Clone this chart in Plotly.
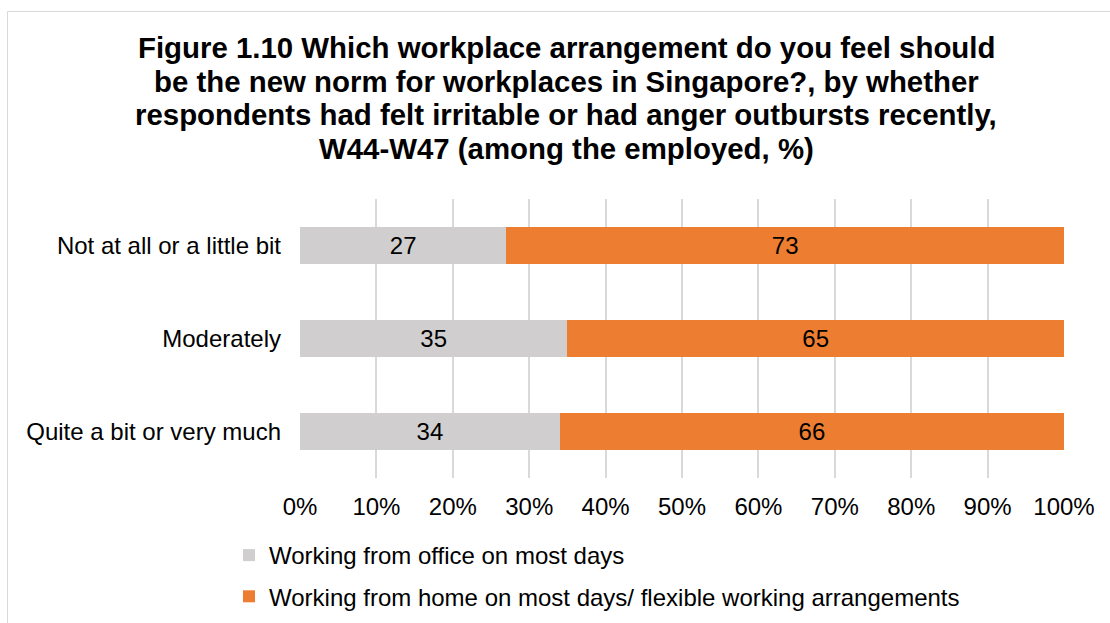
import plotly.graph_objects as go

# Survey breakdown (percent of the employed)
categories = ["Not at all or a little bit", "Moderately", "Quite a bit or very much"]
office_most_days = [27, 35, 34]
home_or_flexible = [73, 65, 66]
series_names = [
    "Working from office on most days",
    "Working from home on most days/ flexible working arrangements",
]
x_ticks = [0, 10, 20, 30, 40, 50, 60, 70, 80, 90, 100]
x_tick_labels = [f"{t}%" for t in x_ticks]
title_lines = [
    "Figure 1.10 Which workplace arrangement do you feel should",
    "be the new norm for workplaces in Singapore?, by whether",
    "respondents had felt irritable or had anger outbursts recently,",
    "W44-W47 (among the employed, %)",
]

W, H = 1110, 623
L, R, T, B = 300, 1064, 199, 478  # plot area edges in pixels
FONT = "Liberation Sans, Arial, sans-serif"


def px(x):
    return (x - L) / (R - L)


def py(y):
    return (B - y) / (B - T)


fig = go.Figure()
fig.add_trace(go.Bar(
    y=categories, x=office_most_days, orientation="h",
    name=series_names[0], marker=dict(color="#D0CECE", line=dict(width=0)),
    text=[str(v) for v in office_most_days], textposition="inside",
    insidetextanchor="middle", insidetextfont=dict(color="#000000", size=24, family=FONT),
    legendgroup="a", hoverinfo="x+y",
))
fig.add_trace(go.Bar(
    y=categories, x=home_or_flexible, orientation="h",
    name=series_names[1], marker=dict(color="#ED7D31", line=dict(width=0)),
    text=[str(v) for v in home_or_flexible], textposition="inside",
    insidetextanchor="middle", insidetextfont=dict(color="#000000", size=24, family=FONT),
    legendgroup="b", hoverinfo="x+y",
))

annotations = []
for i, line in enumerate(title_lines):
    annotations.append(dict(
        text=f"<b>{line}</b>", xref="paper", yref="paper",
        x=px(566), y=py([47, 81, 114.5, 148][i]), xanchor="center", yanchor="middle",
        showarrow=False, font=dict(family=FONT, size=29.4, color="#000000"),
    ))

fig.update_layout(
    width=W, height=H,
    margin=dict(l=L, r=W - R, t=T, b=H - B, pad=0, autoexpand=False),
    paper_bgcolor="white", plot_bgcolor="white",
    barmode="stack", bargap=0.6,
    font=dict(family=FONT, size=24, color="#000000"),
    xaxis=dict(
        range=[0, 100], tickvals=x_ticks, ticktext=x_tick_labels,
        showgrid=True, gridcolor="#D9D9D9", gridwidth=1.5,
        zeroline=False, showline=False, ticks="", ticklabelstandoff=12,
        tickfont=dict(size=24, color="#000000"), fixedrange=True, automargin=False,
    ),
    yaxis=dict(
        autorange="reversed", showgrid=False, zeroline=False, showline=False,
        ticks="", ticklabelstandoff=18, tickfont=dict(size=24, color="#000000"),
        automargin=False,
    ),
    legend=dict(
        x=px(229), y=py(533), xanchor="left", yanchor="top",
        orientation="v", traceorder="grouped", tracegroupgap=7,
        font=dict(size=24, color="#000000", family=FONT),
        bgcolor="rgba(0,0,0,0)",
    ),
    annotations=annotations,
    shapes=[dict(
        type="rect", xref="paper", yref="paper",
        x0=px(7.5), x1=px(1130), y0=py(640), y1=py(11.5),
        line=dict(color="#D9D9D9", width=1), fillcolor="rgba(0,0,0,0)", layer="below",
    )],
    showlegend=True,
)

fig.write_html("out.html")
